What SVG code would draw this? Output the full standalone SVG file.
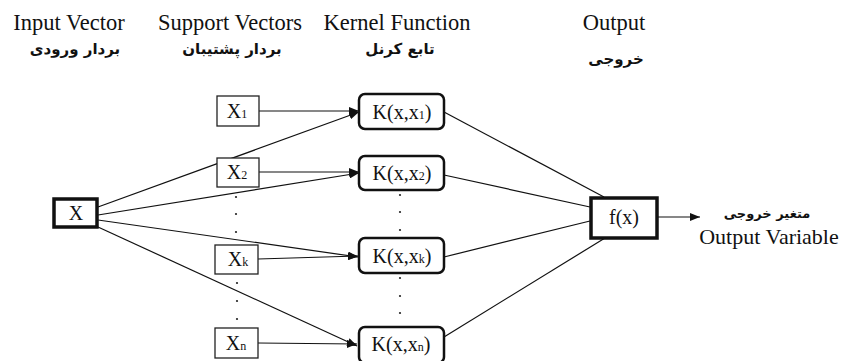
<svg xmlns="http://www.w3.org/2000/svg" width="842" height="361" viewBox="0 0 842 361">
<style>
.hd{font-family:"Liberation Serif","Times New Roman",serif;font-size:22.5px;fill:#111;text-anchor:middle}
.fa{font-family:"DejaVu Sans","Noto Sans",sans-serif;font-size:15px;font-weight:bold;fill:#111;text-anchor:middle}
.lb{font-family:"Liberation Serif","Times New Roman",serif;font-size:20px;fill:#111;text-anchor:middle}
.sub{font-size:12px}
.sv{fill:#fff;stroke:#222;stroke-width:1.3}
.kb{fill:#fff;stroke:#111;stroke-width:2.5}
.thick{fill:#fff;stroke:#111;stroke-width:3.5}
.ln{stroke:#111;stroke-width:1.2;fill:none}
.dot{fill:#222}
</style>
<defs>
<marker id="ah" viewBox="0 0 10 8" refX="10" refY="4" markerWidth="10" markerHeight="8" markerUnits="userSpaceOnUse" orient="auto">
<path d="M0,0 L10,4 L0,8 Z" fill="#111"/>
</marker>
</defs>
<rect width="842" height="361" fill="#fff"/>
<g id="headers">
<text class="hd" x="69" y="30">Input Vector</text>
<text class="hd" x="230" y="30">Support Vectors</text>
<text class="hd" x="397" y="30">Kernel Function</text>
<text class="hd" x="614" y="30">Output</text>
<text class="fa" x="75" y="54">بردار ورودی</text>
<text class="fa" x="232" y="54">بردار پشتیبان</text>
<text class="fa" x="400" y="54">تابع کرنل</text>
<text class="fa" x="616" y="64">خروجی</text>
</g>
<g id="connectors">
<line class="ln" x1="259" y1="111" x2="359" y2="111" marker-end="url(#ah)"/>
<line class="ln" x1="259" y1="172" x2="359" y2="172" stroke-width="2" marker-end="url(#ah)"/>
<line class="ln" x1="258" y1="259" x2="358" y2="256" marker-end="url(#ah)"/>
<line class="ln" x1="258" y1="343" x2="357" y2="344" marker-end="url(#ah)"/>
<line class="ln" x1="98" y1="207" x2="359" y2="112" marker-end="url(#ah)"/>
<line class="ln" x1="98" y1="215" x2="359" y2="173" marker-end="url(#ah)"/>
<line class="ln" x1="98" y1="220" x2="358" y2="257" stroke-width="1.6" marker-end="url(#ah)"/>
<line class="ln" x1="98" y1="227" x2="357" y2="346" marker-end="url(#ah)"/>
<line class="ln" x1="444" y1="112" x2="604" y2="197"/>
<line class="ln" x1="444" y1="175" x2="590" y2="207"/>
<line class="ln" x1="444" y1="257" x2="590" y2="221"/>
<line class="ln" x1="444" y1="337" x2="605" y2="238"/>
<line class="ln" x1="658" y1="217" x2="700" y2="217" stroke-width="1.5" marker-end="url(#ah)"/>
</g>
<g id="input">
<rect class="thick" x="54" y="199" width="43" height="28"/>
<text class="lb" x="76" y="220">X</text>
</g>
<g id="sv1"><rect class="sv" x="217" y="96" width="42" height="30"/><text class="lb" x="237" y="118">X<tspan class="sub">1</tspan></text></g>
<g id="sv2"><rect class="sv" x="217" y="158" width="42" height="29"/><text class="lb" x="237" y="179">X<tspan class="sub">2</tspan></text></g>
<g id="svk"><rect class="sv" x="215" y="245" width="43" height="29"/><text class="lb" x="238" y="266">X<tspan class="sub">k</tspan></text></g>
<g id="svn"><rect class="sv" x="215" y="328" width="43" height="30"/><text class="lb" x="236" y="350">X<tspan class="sub">n</tspan></text></g>
<g id="k1"><rect class="kb" x="359" y="94" width="85" height="35" rx="6"/><text class="lb" x="402" y="119">K(x,x<tspan class="sub">1</tspan>)</text></g>
<g id="k2"><rect class="kb" x="359" y="156" width="85" height="34" rx="6"/><text class="lb" x="402" y="180">K(x,x<tspan class="sub">2</tspan>)</text></g>
<g id="kk"><rect class="kb" x="359" y="238" width="85" height="35" rx="6"/><text class="lb" x="402" y="263">K(x,x<tspan class="sub">k</tspan>)</text></g>
<g id="kn"><rect class="kb" x="359" y="327" width="85" height="36" rx="6"/><text class="lb" x="401" y="351">K(x,x<tspan class="sub">n</tspan>)</text></g>
<g id="output">
<rect class="thick" x="591" y="198" width="66" height="40"/>
<text class="lb" x="624" y="224">f(x)</text>
</g>
<g id="outlabel">
<text class="fa" x="767" y="218" style="font-size:13px">متغیر خروجی</text>
<text class="hd" x="769" y="244" style="font-size:22px">Output Variable</text>
</g>
<g id="dots">
<circle class="dot" cx="236" cy="197" r="1.1"/><circle class="dot" cx="236" cy="214" r="1.1"/><circle class="dot" cx="236" cy="232" r="1.1"/>
<circle class="dot" cx="237" cy="283" r="1.1"/><circle class="dot" cx="237" cy="301" r="1.1"/><circle class="dot" cx="237" cy="319" r="1.1"/>
<circle class="dot" cx="400" cy="195" r="1.1"/><circle class="dot" cx="400" cy="212" r="1.1"/><circle class="dot" cx="400" cy="230" r="1.1"/>
<circle class="dot" cx="400" cy="278" r="1.1"/><circle class="dot" cx="400" cy="296" r="1.1"/><circle class="dot" cx="400" cy="313" r="1.1"/>
</g>
</svg>
